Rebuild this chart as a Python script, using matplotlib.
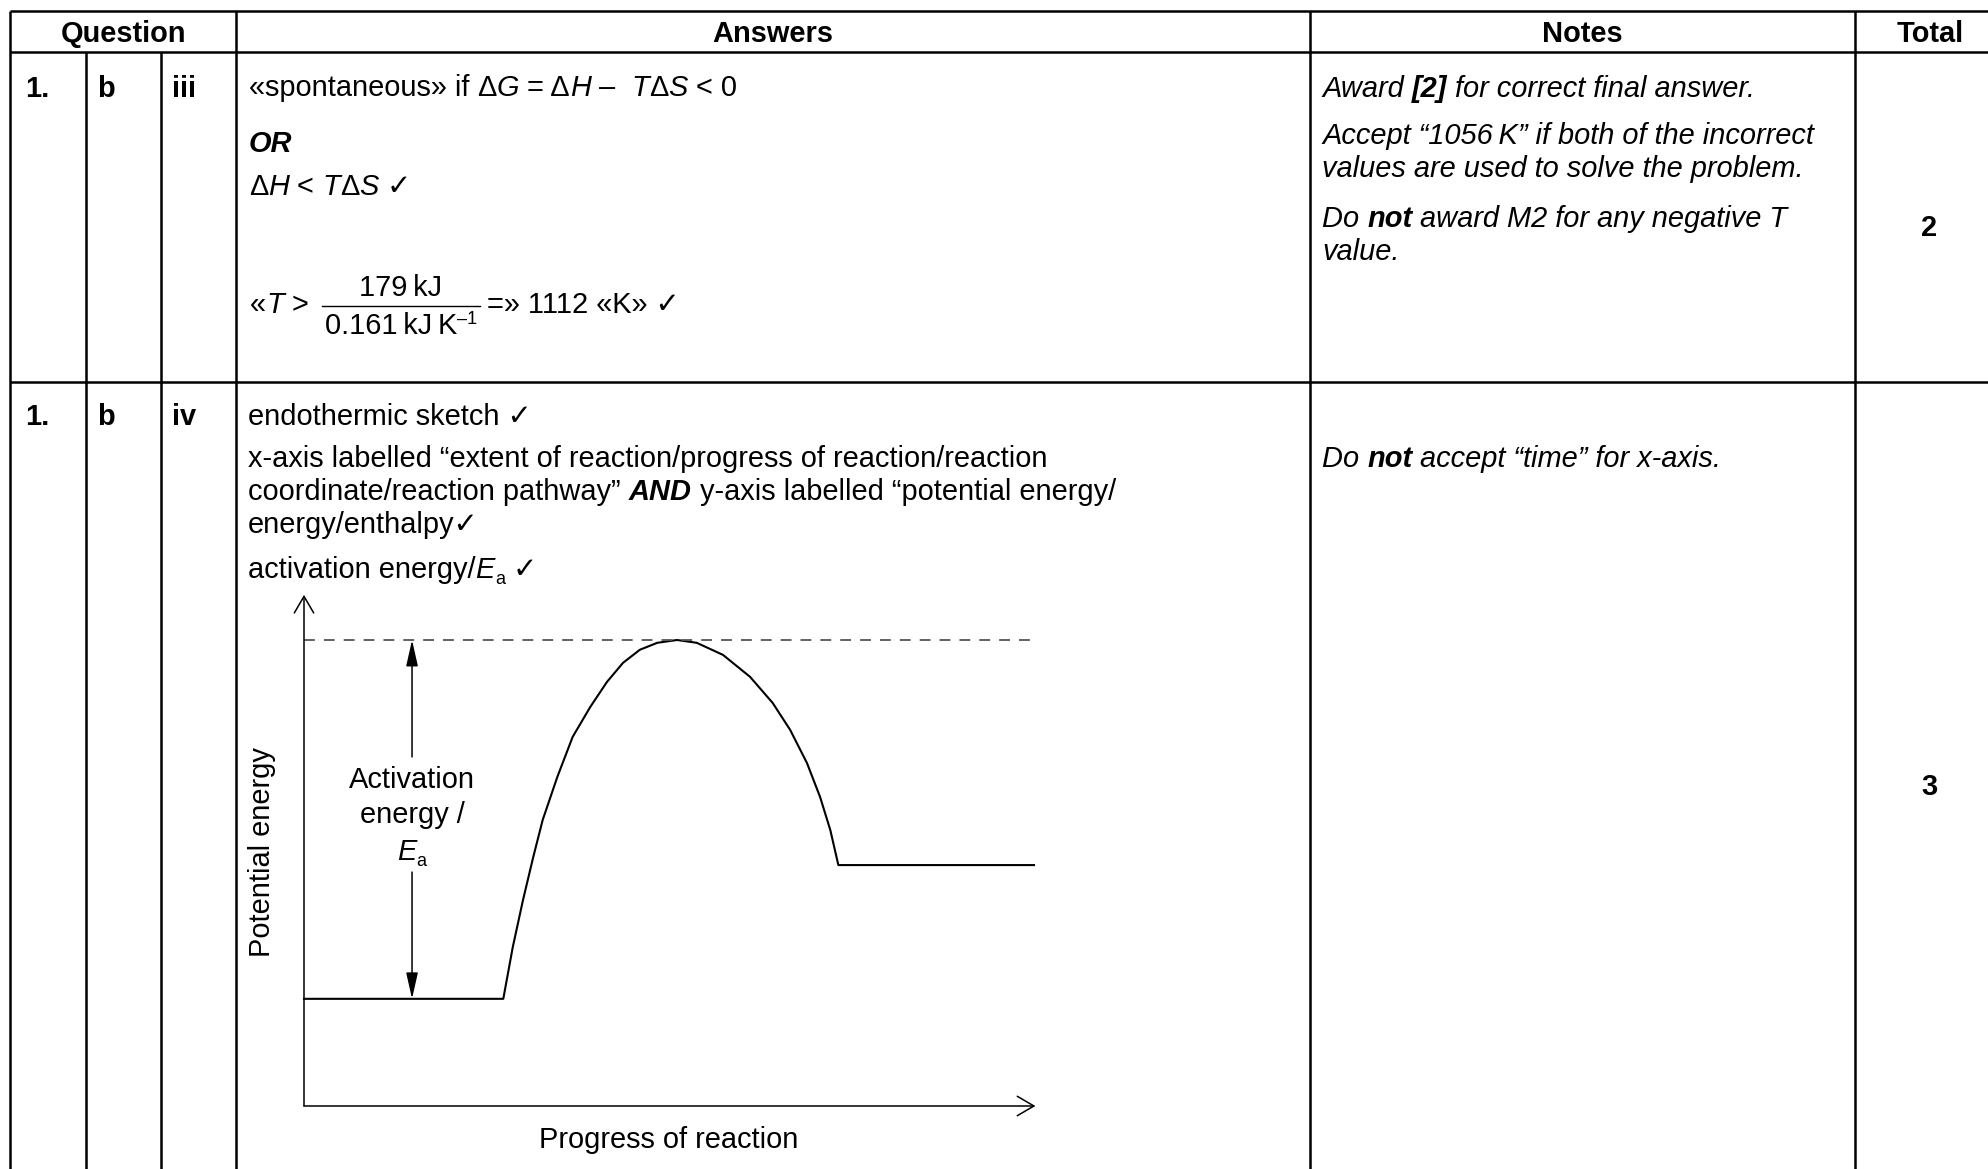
import matplotlib
matplotlib.use("Agg")
import matplotlib.pyplot as plt
from matplotlib.font_manager import FontProperties

# ---- table content ----
headers = ["Question", "Answers", "Notes", "Total"]
q_number = ["1.", "1."]
q_part = ["b", "b"]
q_sub = ["iii", "iv"]
totals = ["2", "3"]

# runs of (text, style): n normal, i italic, b bold, bi bold italic, sub, sup
answer_1 = [
    [("«spontaneous» if ", "n"), ("Δ", "n"), ("G", "i"), (" = Δ", "n"), ("H", "i"),
     (" –  ", "n"), ("T", "i"), ("Δ", "n"), ("S", "i"), (" < 0", "n")],
    [("OR", "bi")],
    [("Δ", "n"), ("H", "i"), (" < ", "n"), ("T", "i"), ("Δ", "n"), ("S", "i"), (" ✓", "n")],
]
frac_left = [("«", "n"), ("T", "i"), (" >", "n")]
frac_num = [("179\u2009kJ", "n")]
frac_den = [("0.161\u2009kJ\u2009K", "n"), ("–1", "sup")]
frac_right = [("=» 1112 «K» ✓", "n")]

notes_1 = [
    [("Award ", "i"), ("[2]", "bi"), (" for correct final answer.", "i")],
    [("Accept “1056\u2009K” if both of the incorrect", "i")],
    [("values are used to solve the problem.", "i")],
    [("Do ", "i"), ("not", "bi"), (" award M2 for any negative T", "i")],
    [("value.", "i")],
]
answer_2 = [
    [("endothermic sketch ✓", "n")],
    [("x-axis labelled “extent of reaction/progress of reaction/reaction", "n")],
    [("coordinate/reaction pathway” ", "n"), ("AND", "bi"), (" y-axis labelled “potential energy/", "n")],
    [("energy/enthalpy✓", "n")],
    [("activation energy/", "n"), ("E", "i"), ("a", "sub"), (" ✓", "n")],
]
notes_2 = [
    [("Do ", "i"), ("not", "bi"), (" accept “time” for x-axis.", "i")],
]

# ---- energy profile sketch (progress 0-100, energy 0-100) ----
reactant_energy = 23.0
product_energy = 51.7
peak_energy = 100.0
barrier_x = [27.3, 28.6, 30.0, 31.4, 32.7, 34.7, 36.8, 39.2, 41.5, 43.7, 46.0,
             48.4, 51.1, 53.8, 57.4, 61.1, 64.2, 66.6, 68.9, 70.7, 72.1, 73.2]
barrier_e = [23.0, 34.1, 44.2, 53.4, 61.4, 70.6, 79.2, 85.6, 91.0, 95.1, 97.9,
             99.4, 100.0, 99.4, 96.8, 92.1, 86.5, 80.7, 73.6, 66.3, 59.2, 51.7]
x_label = "Progress of reaction"
y_label = "Potential energy"
ea_label = ["Activation", "energy /"]

# ---- layout (pixels) ----
W, H = 1988, 1169
FS = 20.9
FAM = ["Liberation Sans", "DejaVu Sans"]
col_x = [10, 86, 161, 236, 1310, 1855, 2010]
top_y, head_y, sep_y = 11, 52, 382

STYLES = {
    "n": ("normal", "normal", 1.0, 0),
    "i": ("italic", "normal", 1.0, 0),
    "b": ("normal", "bold", 1.0, 0),
    "bi": ("italic", "bold", 1.0, 0),
    "sub": ("normal", "normal", 0.62, 6),
    "sup": ("normal", "normal", 0.62, -10),
}

fig = plt.figure(figsize=(W / 100, H / 100), dpi=100)
ax = fig.add_axes([0, 0, 1, 1])
ax.set_xlim(0, W)
ax.set_ylim(H, 0)
ax.axis("off")
renderer = fig.canvas.get_renderer()


def font(style, size=FS):
    st, wt, scale, _ = STYLES[style]
    return FontProperties(family=FAM, style=st, weight=wt, size=size * scale)


def width(s, prop):
    a = renderer.get_text_width_height_descent("|" + s + "|", prop, ismath=False)[0]
    b = renderer.get_text_width_height_descent("||", prop, ismath=False)[0]
    return a - b


def runs(x, y, parts, ha="left", size=FS):
    props = [font(st, size) for _, st in parts]
    ws = [width(s, p) for (s, _), p in zip(parts, props)]
    if ha == "center":
        x -= sum(ws) / 2
    for (s, st), p, w in zip(parts, props, ws):
        ax.text(x, y + STYLES[st][3], s, fontproperties=p, va="baseline", ha="left")
        x += w


# table grid
lw_t = 1.8
for y in (top_y, head_y, sep_y):
    ax.plot([col_x[0], col_x[-1]], [y, y], color="black", lw=lw_t, solid_capstyle="butt")
for i, x in enumerate(col_x[:-1]):
    y0 = head_y if i in (1, 2) else top_y
    ax.plot([x, x], [y0, H + 5], color="black", lw=lw_t, solid_capstyle="butt")

# headers
head_cx = [(col_x[0] + col_x[3]) / 2, (col_x[3] + col_x[4]) / 2,
           (col_x[4] + col_x[5]) / 2, 1930]
for txt, cx in zip(headers, head_cx):
    runs(cx, 42, [(txt, "b")], ha="center")

# question ids and totals
row_base = [97, 425]
total_base = [236, 795]
for r in range(2):
    runs(25, row_base[r], [(q_number[r], "b")])
    runs(97, row_base[r], [(q_part[r], "b")])
    runs(172, row_base[r], [(q_sub[r], "b")])
    runs(1929, total_base[r], [(totals[r], "b")], ha="center")

# row 1 answers
for parts, yb in zip(answer_1, [96, 152, 195]):
    runs(249, yb, parts)
runs(250, 313, frac_left)
runs(401, 296, frac_num, ha="center")
ax.plot([322, 480], [306, 306], color="black", lw=1.0)
runs(401, 334, frac_den, ha="center")
runs(487, 313, frac_right)

for parts, yb in zip(notes_1, [97, 144, 177, 227, 260]):
    runs(1322, yb, parts)

# row 2 answers
for parts, yb in zip(answer_2, [425, 467, 500, 533, 578]):
    runs(248, yb, parts)
for parts, yb in zip(notes_2, [467]):
    runs(1322, yb, parts)

# ---- sketch ----
sk = fig.add_axes([304 / W, (H - 1106) / H, 730 / W, 466 / H])
sk.set_xlim(0, 100)
sk.set_ylim(0, 100)
sk.axis("off")

curve_x = [0] + barrier_x + [100]
curve_e = [reactant_energy] + barrier_e + [product_energy]
sk.plot(curve_x, curve_e, color="black", lw=1.5, clip_on=False, solid_joinstyle="round")
sk.plot([0, 100], [peak_energy, peak_energy], color="#555555", lw=1.3,
        ls=(0, (6, 5)), clip_on=False)

axis_arrow = dict(arrowstyle="->,head_length=0.6,head_width=0.35", color="black",
                  lw=1.1, shrinkA=0, shrinkB=0, mutation_scale=20)
sk.annotate("", xy=(0, 109.7), xytext=(0, 0), arrowprops=axis_arrow, annotation_clip=False)
sk.annotate("", xy=(100.2, 0), xytext=(0, 0), arrowprops=axis_arrow, annotation_clip=False)

ea_arrow = dict(arrowstyle="-|>,head_length=0.8,head_width=0.18", color="black",
                lw=1.1, shrinkA=0, shrinkB=0, mutation_scale=20)
sk.annotate("", xy=(14.8, peak_energy), xytext=(14.8, 74.9), arrowprops=ea_arrow,
            annotation_clip=False)
sk.annotate("", xy=(14.8, reactant_energy), xytext=(14.8, 50.2), arrowprops=ea_arrow,
            annotation_clip=False)

fig.canvas.draw()


def sk_px(x, e):
    return ax.transData.inverted().transform(sk.transData.transform((x, e)))


for txt, e in zip(ea_label, [68.2, 60.7]):
    px, py = sk_px(14.8, e)
    runs(px, py, [(txt, "n")], ha="center")
px, py = sk_px(14.8, 52.8)
runs(px, py, [("E", "i"), ("a", "sub")], ha="center")

px, py = sk_px(50, -7.3)
ax.text(px, py, x_label, fontproperties=font("n"), ha="center", va="center")
px, py = sk_px(-5.75, 54.5)
ax.text(px, py, y_label, fontproperties=font("n"), ha="center", va="center", rotation=90)

fig.savefig("out.png", dpi=100, facecolor="white")
